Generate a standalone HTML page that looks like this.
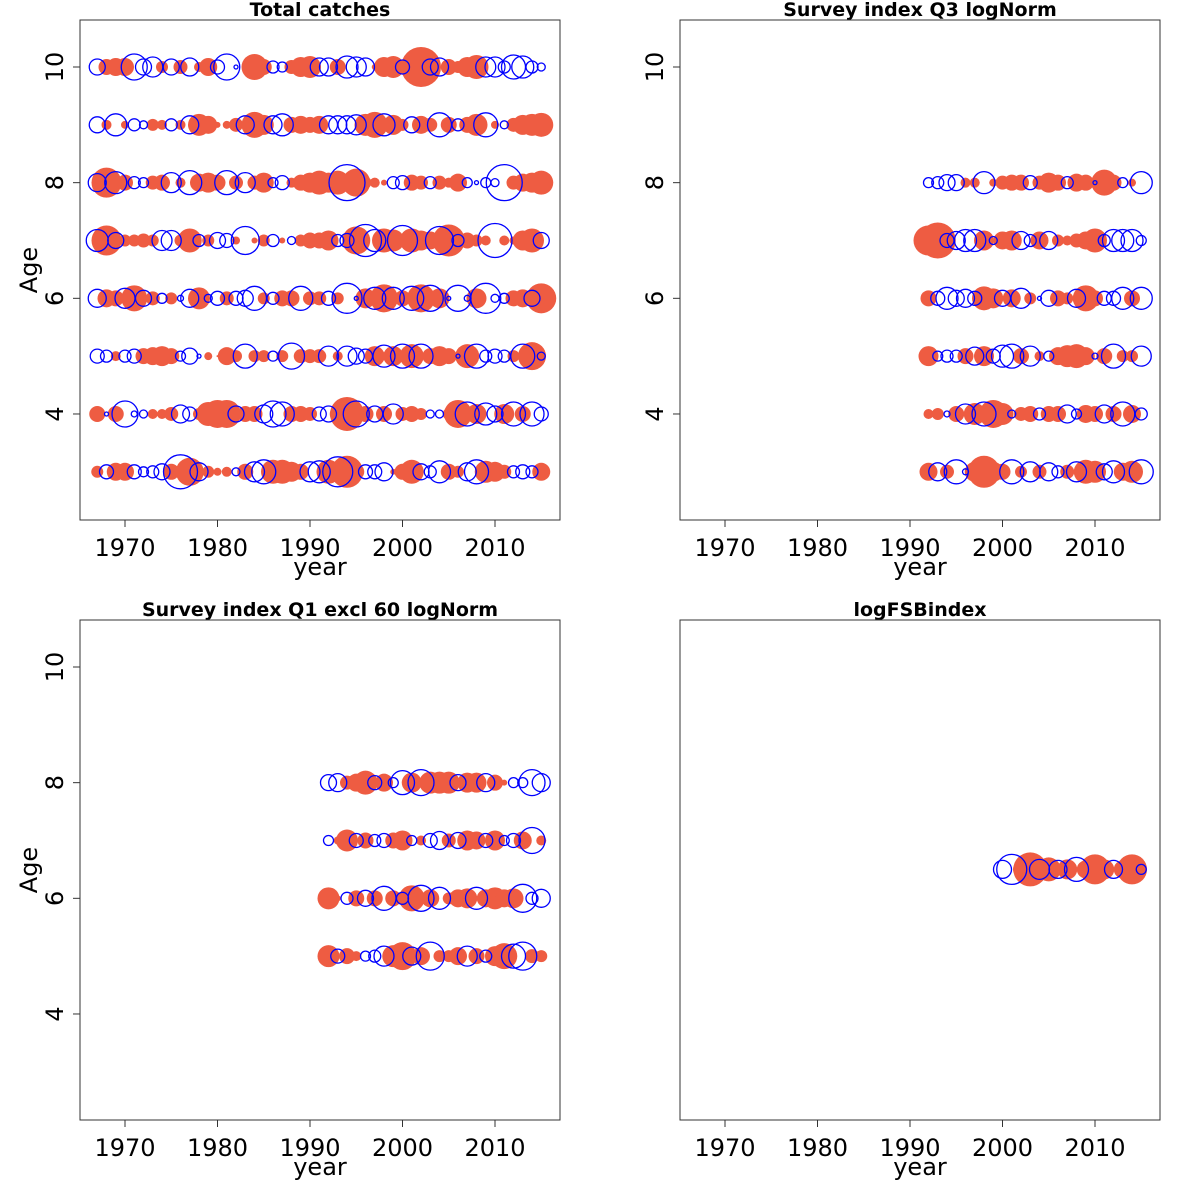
<!DOCTYPE html>
<html><head><meta charset="utf-8">
<style>
html,body{margin:0;padding:0;background:#fff;}
svg{display:block;font-family:"DejaVu Sans","Liberation Sans",sans-serif;}
</style></head>
<body>
<svg id="chart" width="1200" height="1200" viewBox="0 0 1200 1200"></svg>
<script>
// Years and ages
const yearsAll = [];
for (let y = 1967; y <= 2015; y++) yearsAll.push(y);
const yearsSurvey = [];
for (let y = 1992; y <= 2015; y++) yearsSurvey.push(y);
const yearsFSB = [];
for (let y = 2000; y <= 2015; y++) yearsFSB.push(y);
const xTicks = [1970, 1980, 1990, 2000, 2010];
const yTicks = [4, 6, 8, 10];

// Total catches residuals (positive = filled red, negative = open blue), 1967-2015
const catchAge10 = [-0.8,0.8,0.9,0.9,-1.3,-0.8,-1.0,0.6,-0.8,0.7,-0.9,0.5,0.9,-0.7,-1.3,-0.2,0.3,1.3,0.8,-0.6,-0.5,0.7,1.0,1.1,-0.9,-0.9,0.8,-1.1,-1.0,-0.9,0.3,1.0,1.1,-0.7,1.0,2.0,-0.8,-0.9,0.8,0.6,1.0,1.2,-1.0,-1.0,-0.6,-1.2,-1.1,-0.6,-0.4];
const catchAge9 = [-0.8,0.5,-1.1,0.4,-0.6,-0.4,0.6,0.5,-0.6,0.5,-0.9,1.1,0.9,0.3,0.4,0.7,-0.9,1.3,1.0,-0.9,-1.1,0.8,0.9,0.8,0.9,-0.9,-0.9,-0.9,-1.0,1.1,1.3,-1.1,1.0,0.6,-0.8,0.9,0.7,-1.2,0.8,-0.6,0.8,1.1,-1.2,0.4,-0.4,0.7,1.0,1.1,1.2];
const catchAge8 = [-0.9,1.5,-1.1,0.8,-0.6,-0.5,0.7,0.8,-1.0,0.5,-1.2,0.9,1.0,0.8,-1.2,0.7,-1.0,0.7,1.0,-0.5,-0.7,0.5,0.8,1.0,1.2,1.0,1.2,-1.8,1.4,0.6,0.5,0.3,-0.6,-0.7,0.8,0.7,-0.6,0.7,0.5,0.9,-0.5,-0.2,-0.5,-0.4,-1.8,0.7,0.9,1.0,1.2];
const catchAge7 = [-1.1,1.5,-0.8,0.6,0.6,0.7,0.6,-1.0,-1.0,0.6,1.2,-0.6,0.6,-0.8,-0.7,0.4,-1.4,0.3,0.6,-0.6,0.3,-0.4,0.6,0.8,0.8,1.0,-0.6,-0.7,1.4,-1.6,-1.1,1.2,1.1,-1.5,1.2,1.0,0.9,-1.4,1.6,-0.6,0.8,0.6,0.5,-1.7,0.5,0.4,1.0,1.2,-0.8];
const catchAge6 = [-0.9,0.9,0.8,-1.0,1.3,-0.8,0.7,-0.5,0.6,-0.3,-0.9,1.1,-0.4,-0.7,0.7,-0.7,-0.8,-1.2,0.6,-0.6,0.8,0.8,-1.2,0.7,0.7,-0.7,0.6,-1.5,-0.2,1.0,-1.1,1.4,-1.1,0.8,-1.2,1.4,-1.3,1.0,-0.2,-1.3,-0.3,1.0,-1.5,-0.4,-0.5,0.8,0.9,-0.8,1.5];
const catchAge5 = [-0.7,-0.6,0.5,-0.6,-0.7,0.8,0.9,1.0,0.8,-0.5,-0.8,-0.2,0.4,0.1,0.9,0.6,-1.2,0.6,0.6,-0.5,0.6,-1.3,0.7,0.7,0.7,-1.0,0.5,-1.0,-0.8,-0.7,1.0,-1.1,1.0,-1.2,1.2,-1.2,0.8,1.0,0.8,-0.2,1.2,-1.2,-0.6,-0.7,-0.6,0.6,-1.2,1.4,-0.4];
const catchAge4 = [0.8,-0.2,0.8,-1.3,-0.3,-0.4,0.5,0.5,0.7,-0.9,-0.7,0.6,1.2,1.4,1.4,-0.8,0.8,0.8,-0.9,-1.3,-1.2,0.8,0.8,0.7,-0.7,-0.8,0.8,1.7,-1.3,0.8,-0.8,0.8,-1.0,0.7,0.8,0.6,-0.4,-0.4,0.6,1.4,-1.2,1.0,-1.1,-0.8,1.0,-1.2,0.8,-1.2,-0.7];
const catchAge3 = [0.6,-0.7,0.9,0.9,-0.7,-0.5,-0.6,-0.8,0.8,-1.7,1.4,-0.9,0.6,0.4,0.5,-0.4,0.8,-1.0,-1.2,1.2,1.2,1.0,0.8,-1.0,-1.1,1.2,-1.5,1.6,0.8,-0.7,-0.7,-0.9,0.3,0.8,1.2,-0.8,-0.6,-1.1,0.8,0.6,-0.9,-1.2,1.1,1.0,0.7,-0.6,-0.7,-0.6,0.9];

// Survey index Q3, 1992-2015
const q3Age8 = [-0.5,-0.6,-0.8,-0.8,0.5,0.5,-1.1,0.4,0.7,0.8,0.8,-0.7,0.7,1.0,0.8,-0.6,0.9,0.8,-0.2,1.3,0.8,-0.5,0.4,-1.1];
const q3Age7 = [1.5,1.8,-0.7,-0.9,-1.1,-1.1,1.0,-0.4,0.9,1.0,-0.9,-0.6,0.9,-0.9,0.6,0.5,0.7,0.9,1.2,-0.6,-1.1,-1.1,-1.1,-0.5];
const q3Age6 = [0.8,-0.7,-1.1,-0.8,-0.9,-0.7,1.2,1.0,-0.8,0.9,-1.0,0.6,-0.2,-0.8,0.8,0.6,-0.9,1.3,0.8,-0.7,-0.7,-1.1,0.8,-1.1];
const q3Age5 = [1.0,-0.5,-0.6,-0.6,0.8,-0.9,1.0,-0.7,-1.1,-1.2,0.8,-1.0,0.5,-0.5,0.9,1.1,1.2,0.9,-0.3,0.8,-1.2,0.6,0.6,-1.0];
const q3Age4 = [0.5,0.6,-0.3,0.8,-1.0,1.1,-1.2,1.4,1.1,-0.4,0.7,0.8,-0.6,0.8,0.8,-0.9,-0.5,0.9,0.8,-0.9,0.8,-1.2,0.9,-0.6];
const q3Age3 = [0.9,-0.9,0.7,-1.2,-0.3,1.0,1.6,1.0,0.8,-1.2,0.6,-1.0,0.7,-0.9,-0.6,0.7,-1.0,1.2,1.1,-0.8,-1.1,0.9,1.1,-1.2];

// Survey index Q1 excl 60, 1992-2015
const q1Age8 = [-0.8,-0.9,0.7,0.9,1.2,-0.7,0.9,-0.5,-1.2,1.0,-1.3,1.1,1.1,1.1,-0.8,1.0,1.0,-0.9,0.8,0.3,-0.5,-0.5,-1.3,-0.9];
const q1Age7 = [-0.5,0.4,1.1,-0.7,0.8,-0.6,-0.7,0.8,1.0,-0.5,0.5,-0.7,-0.9,0.7,-0.8,1.0,0.9,-0.7,1.0,-0.5,-0.7,0.9,-1.3,0.5];
const q1Age6 = [1.1,0.3,-0.6,0.8,-0.8,0.8,-1.2,0.8,-0.6,1.3,-1.3,0.9,-1.1,0.6,0.9,1.0,-1.1,0.9,1.1,0.9,1.0,-1.4,-0.6,-0.9];
const q1Age5 = [1.1,-0.7,0.8,0.5,-0.5,-0.6,-1.0,1.1,1.4,-0.9,0.9,-1.4,0.6,0.6,0.9,-1.0,0.8,-0.6,1.0,1.3,-1.2,-1.4,0.7,0.6];

// logFSBindex, 2000-2015
const fsbValues = [-0.9,-1.5,0.8,1.7,-1.0,1.2,-0.9,1.0,-1.2,0.9,1.5,1.0,-0.9,0.9,1.5,-0.5];

const NS = "http://www.w3.org/2000/svg";
const svg = document.getElementById("chart");
const RED = "#EE5C42", BLUE = "#0000FF";
function mk(tag, attrs, parent) {
  const e = document.createElementNS(NS, tag);
  for (const k in attrs) e.setAttribute(k, attrs[k]);
  (parent || svg).appendChild(e);
  return e;
}
function rOf(v) { return 10 * Math.abs(v); }

function panel(ox, oy, title, rows, years, opts) {
  const L = ox + 80, R = ox + 560, T = oy + 20, B = oy + 520;
  const xs = y => ox + 125 + (y - 1970) * 9.25;
  const ys = a => oy + 67 + (10 - a) * 57.83;
  const g = mk("g", {});
  
  
  const t = mk("text", {x: ox + 320, y: oy + 16, "text-anchor": "middle", "font-size": 19, "font-weight": "bold"}, g);
  t.textContent = title;
  
  
  for (const pass of [0, 1]) {
    rows.forEach(row => {
      row.vals.forEach((v, i) => {
        const cx = xs(years[i]), cy = ys(row.age), r = rOf(v);
        if (pass === 0 && v > 0) {
          const c = mk("circle", {cx, cy, r, fill: RED}, g);
          
          
        } else if (pass === 1 && v < 0) {
          const c = mk("circle", {cx, cy, r, fill: "none", stroke: BLUE, "stroke-width": 1.3}, g);
          
          
        }
      });
    });
  }
  const box = mk("rect", {x: L, y: T, width: R - L, height: B - T, fill: "none", stroke: "#333", "stroke-width": 1}, g);
  
  
  xTicks.forEach(v => {
    const x = xs(v);
    mk("line", {x1: x, y1: B, x2: x, y2: B + 7, stroke: "#333"}, g);
    const tl = mk("text", {x, y: B + 36, "text-anchor": "middle", "font-size": 24}, g);
    tl.textContent = v;
    
    
  });
  const xl = mk("text", {x: ox + 320, y: oy + 575, "text-anchor": "middle", "font-size": 24}, g);
  xl.textContent = "year";
  
  
  if (opts.yaxis) {
    yTicks.forEach(v => {
      const y = ys(v);
      mk("line", {x1: L, y1: y, x2: L - 7, y2: y, stroke: "#333"}, g);
      const tl = mk("text", {x: ox + 63, y, "text-anchor": "middle", "font-size": 24, transform: `rotate(-90 ${ox + 63} ${y})`}, g);
      tl.textContent = v;
      
      
    });
  }
  if (opts.ylabel) {
    const yl = mk("text", {x: ox + 37, y: oy + 270, "text-anchor": "middle", "font-size": 24, transform: `rotate(-90 ${ox + 37} ${oy + 270})`}, g);
    yl.textContent = "Age";
    
    
  }
}

panel(0, 0, "Total catches", [
  {age: 10, vals: catchAge10}, {age: 9, vals: catchAge9}, {age: 8, vals: catchAge8}, {age: 7, vals: catchAge7},
  {age: 6, vals: catchAge6}, {age: 5, vals: catchAge5}, {age: 4, vals: catchAge4}, {age: 3, vals: catchAge3}
], yearsAll, {name: "total-catches-panel", yaxis: true, ylabel: true});

panel(600, 0, "Survey index Q3 logNorm", [
  {age: 8, vals: q3Age8}, {age: 7, vals: q3Age7}, {age: 6, vals: q3Age6},
  {age: 5, vals: q3Age5}, {age: 4, vals: q3Age4}, {age: 3, vals: q3Age3}
], yearsSurvey, {name: "survey-q3-panel", yaxis: true, ylabel: false});

panel(0, 600, "Survey index Q1 excl 60 logNorm", [
  {age: 8, vals: q1Age8}, {age: 7, vals: q1Age7}, {age: 6, vals: q1Age6}, {age: 5, vals: q1Age5}
], yearsSurvey, {name: "survey-q1-panel", yaxis: true, ylabel: true});

panel(600, 600, "logFSBindex", [
  {age: 6.5, vals: fsbValues}
], yearsFSB, {name: "logfsbindex-panel", yaxis: false, ylabel: false});
</script>
</body></html>
